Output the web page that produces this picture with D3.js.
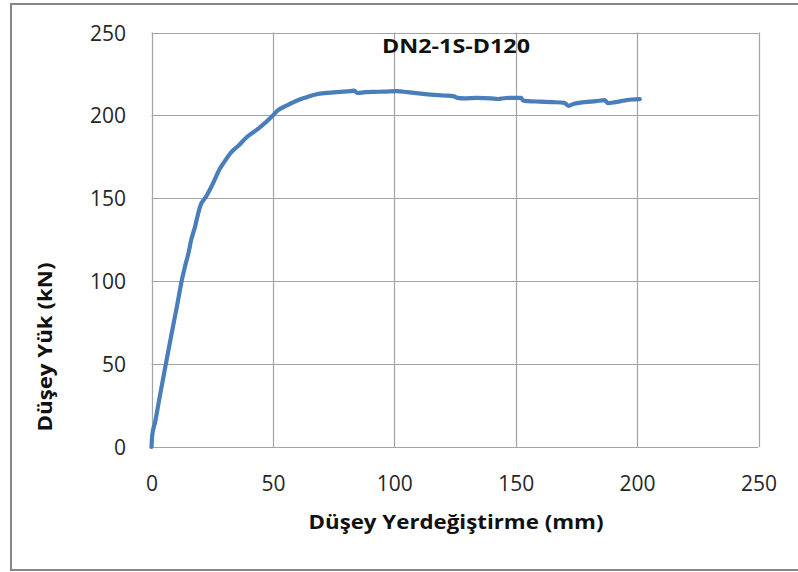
<!DOCTYPE html>
<html><head><meta charset="utf-8">
<script src="https://cdn.jsdelivr.net/npm/d3@7"></script>
<style>body{margin:0;background:#fff}svg{display:block}</style>
</head><body>
<script>
const title = "DN2-1S-D120";
const xLabel = "Düşey Yerdeğiştirme (mm)";
const yLabel = "Düşey Yük (kN)";
const xTicks = [0, 50, 100, 150, 200, 250];
const yTicks = [0, 50, 100, 150, 200, 250];
const dispMM = [0,0.3,1.5,3.1,5.9,8.3,10.5,12.4,14,15.5,16.2,17.9,18.6,20,22.7,25,28.2,30,32.4,36,39.3,44,50,52,55.8,60,64,68,72.3,77.8,81.9,83.5,84.7,88,91.6,96,101.2,105.4,110,115,120,124.6,126,128.8,134,139.8,142.6,146,152.2,153,155,160,165,170,171.7,174,178.3,183,186.6,188,191,194.9,198,201.1];
const loadKN = [0,7,15,28,50,68.5,85,100,110,118.7,124,132.7,137,145,151.5,158,168,172,177,182,187,192,200,203,206,209,211,212.8,213.6,214.2,214.6,215,213.5,214,214.2,214.3,214.6,214,213.3,212.5,212,211.5,210.6,210.3,210.6,210.3,209.9,210.5,210.6,209,208.6,208.3,208,207.6,205.8,207,208,208.6,209.2,207.4,208,209,209.6,209.8];

(function(){
const W = 798, H = 572;
const svg = d3.select("body").append("svg").attr("width", W).attr("height", H);
svg.append("rect").attr("x", 11).attr("y", 4).attr("width", 800).attr("height", 566)
  .attr("fill", "#fff").attr("stroke", "#878787").attr("stroke-width", 2);

const pL = 151.5, pR = 758.5, pT = 32.5, pB = 447;
const x = d3.scaleLinear().domain([0, 250]).range([pL, pR]);
const y = d3.scaleLinear().domain([0, 250]).range([pB, pT]);

const grid = svg.append("g").attr("stroke", "#a3a3a3").attr("stroke-width", 1.2);
grid.selectAll("line.v").data(xTicks).join("line").attr("class", "v")
  .attr("x1", d => Math.round(x(d)) + 0.5).attr("x2", d => Math.round(x(d)) + 0.5)
  .attr("y1", pT).attr("y2", pB);
grid.selectAll("line.h").data(yTicks).join("line").attr("class", "h")
  .attr("y1", d => Math.round(y(d)) + 0.5).attr("y2", d => Math.round(y(d)) + 0.5)
  .attr("x1", pL).attr("x2", pR);

const font = "'Open Sans', Lato, sans-serif";
const xAxis = d3.axisBottom(x).tickValues(xTicks).tickSize(0).tickPadding(0);
const gx = svg.append("g").attr("transform", `translate(0,${pB})`).call(xAxis);
gx.select(".domain").remove();
gx.selectAll("text").attr("font-family", font).attr("font-size", 21).attr("fill", "#262626")
  .attr("dy", null).attr("y", 44);

const yAxis = d3.axisLeft(y).tickValues(yTicks).tickSize(0).tickPadding(0);
const gy = svg.append("g").attr("transform", `translate(126,0)`).call(yAxis);
gy.select(".domain").remove();
gy.selectAll("text").attr("font-family", font).attr("font-size", 21).attr("fill", "#262626")
  .attr("dy", "0.36em");

const pts = dispMM.map((d, i) => [d, loadKN[i]]);
svg.append("path").datum(pts)
  .attr("fill", "none").attr("stroke", "#4a7ebb").attr("stroke-width", 4.2)
  .attr("stroke-linejoin", "round").attr("stroke-linecap", "round")
  .attr("d", d3.line().x(d => x(d[0])).y(d => y(d[1])).curve(d3.curveMonotoneX));

svg.append("text").attr("x", 456).attr("y", 53).attr("text-anchor", "middle")
  .attr("font-family", font).attr("font-weight", "bold").attr("font-size", 19.5)
  .attr("textLength", 148).attr("lengthAdjust", "spacingAndGlyphs")
  .attr("fill", "#111").text(title);
svg.append("text").attr("x", 456).attr("y", 529).attr("text-anchor", "middle")
  .attr("font-family", font).attr("font-weight", "bold").attr("font-size", 20)
  .attr("textLength", 295).attr("lengthAdjust", "spacingAndGlyphs")
  .attr("fill", "#111").text(xLabel);
svg.append("text").attr("transform", "translate(52,347) rotate(-90)").attr("text-anchor", "middle")
  .attr("font-family", font).attr("font-weight", "bold").attr("font-size", 20)
  .attr("textLength", 169).attr("lengthAdjust", "spacingAndGlyphs")
  .attr("fill", "#111").text(yLabel);
})();
</script>
</body></html>
